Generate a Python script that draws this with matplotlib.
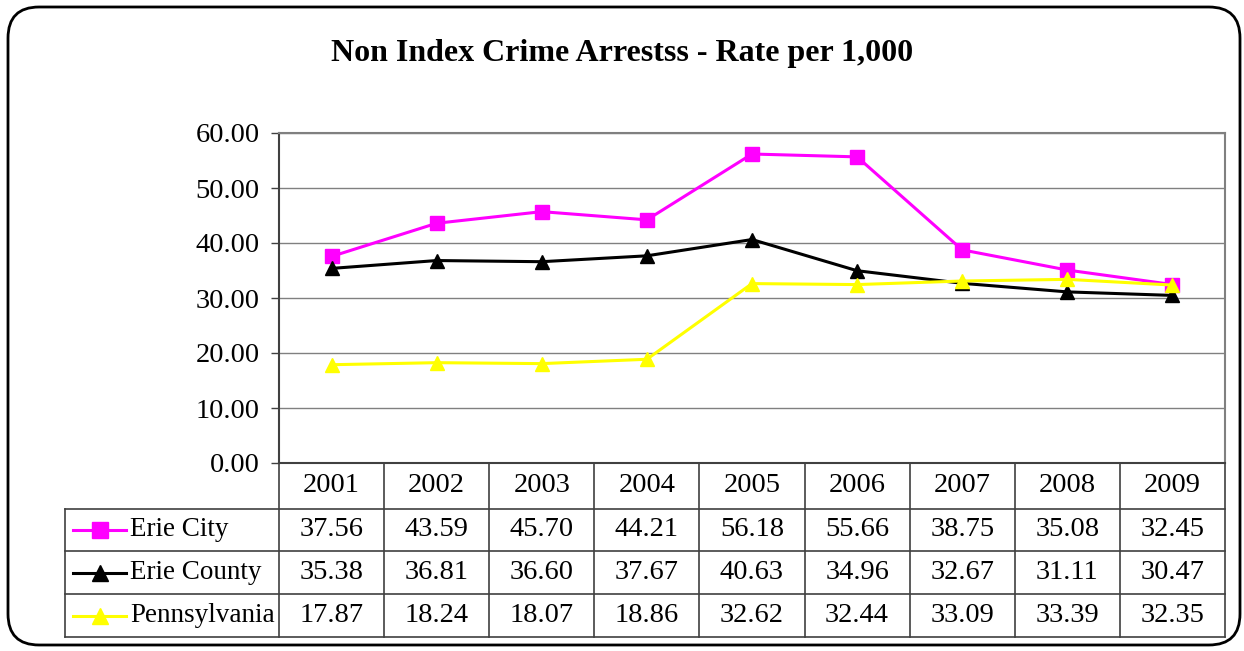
import matplotlib
matplotlib.use("Agg")
import matplotlib.pyplot as plt
from matplotlib.patches import FancyBboxPatch
from matplotlib.transforms import blended_transform_factory
from matplotlib.lines import Line2D

years = ["2001", "2002", "2003", "2004", "2005", "2006", "2007", "2008", "2009"]
erie_city = [37.56, 43.59, 45.70, 44.21, 56.18, 55.66, 38.75, 35.08, 32.45]
erie_county = [35.38, 36.81, 36.60, 37.67, 40.63, 34.96, 32.67, 31.11, 30.47]
pennsylvania = [17.87, 18.24, 18.07, 18.86, 32.62, 32.44, 33.09, 33.39, 32.35]
series_names = ["Erie City", "Erie County", "Pennsylvania"]
series_values = [erie_city, erie_county, pennsylvania]
colors = ["#FF00FF", "#000000", "#FFFF00"]
markers = ["s", "^", "^"]
title = "Non Index Crime Arrestss - Rate per 1,000"
yticks = [0, 10, 20, 30, 40, 50, 60]

plt.rcParams['font.family'] = ['Liberation Serif', 'DejaVu Serif']

FS = 20.5
W, H = 1244, 651
fig = plt.figure(figsize=(W / 100, H / 100), dpi=100)

def fy(py):
    return 1 - py / H

def fx(px):
    return px / W

# rounded border
border = FancyBboxPatch((fx(8), fy(645)), fx(1240) - fx(8), fy(7) - fy(645),
                        boxstyle="round,pad=0,rounding_size=0.025",
                        transform=fig.transFigure, fill=False, edgecolor="black",
                        linewidth=2.0, mutation_aspect=W / H)
fig.patches.append(border)

left, right, top, bottom = 279, 1225, 133, 463
ax = fig.add_axes([fx(left), fy(bottom), fx(right) - fx(left), fy(top) - fy(bottom)])

x = list(range(len(years)))
for name, vals, c, m in zip(series_names, series_values, colors, markers):
    ax.plot(x, vals, color=c, marker=m, markersize=10, linewidth=2.2, zorder=3,
            label=name)

ax.set_xlim(-0.5, len(years) - 0.5)
ax.set_ylim(0, 60)
ax.set_yticks(yticks)
ax.set_yticklabels([f"{v:.2f}" for v in yticks], fontsize=FS)
ax.set_xticks([])
ax.yaxis.grid(True, color="#808080", linewidth=1.0)
ax.set_axisbelow(True)
for side in ["top", "right"]:
    ax.spines[side].set_color("#808080")
    ax.spines[side].set_linewidth(1.5)
ax.spines["left"].set_color("#404040")
ax.spines["left"].set_linewidth(1.5)
ax.spines["bottom"].set_color("#404040")
ax.spines["bottom"].set_linewidth(1.5)
ax.tick_params(axis="y", length=6, width=1, color="#404040", pad=8)

fig.text(0.5, fy(53), title, ha="center", va="center", fontsize=23, fontweight="bold")

# data table
tr = blended_transform_factory(ax.transData, fig.transFigure)
row_edges = [463, 509, 551, 594, 637]
table_left_px = 65
lc = "#404040"
lw = 1.2
n = len(years)
for i in range(n + 1):
    xb = i - 0.5
    fig.lines.append(Line2D([xb, xb], [fy(row_edges[0]), fy(row_edges[-1])], transform=tr,
                            color=lc, linewidth=lw, clip_on=False))
for j, ry in enumerate(row_edges):
    if j == 0:
        continue
    fig.lines.append(Line2D([fx(table_left_px), fx(right)], [fy(ry), fy(ry)],
                            transform=fig.transFigure, color=lc, linewidth=lw))
fig.lines.append(Line2D([fx(table_left_px), fx(table_left_px)], [fy(row_edges[1]), fy(row_edges[-1])],
                        transform=fig.transFigure, color=lc, linewidth=lw))

hy = fy((row_edges[0] + row_edges[1]) / 2)
for i, yr in enumerate(years):
    t = plt.Text(i, hy, yr, ha="center", va="center", fontsize=FS, transform=tr)
    t.set_figure(fig)
    fig.texts.append(t)

for r, (name, vals, c, m) in enumerate(zip(series_names, series_values, colors, markers)):
    cy = fy((row_edges[r + 1] + row_edges[r + 2]) / 2)
    for i, v in enumerate(vals):
        t = plt.Text(i, cy, f"{v:.2f}", ha="center", va="center", fontsize=FS, transform=tr)
        t.set_figure(fig)
        fig.texts.append(t)
    fig.lines.append(Line2D([fx(73), fx(126)], [cy, cy], transform=fig.transFigure,
                            color=c, linewidth=2.2))
    fig.lines.append(Line2D([fx(99.5)], [cy], transform=fig.transFigure, color=c,
                            marker=m, markersize=11.5, linestyle="none"))
    fig.text(fx(130), cy, name, ha="left", va="center", fontsize=19.5)

fig.savefig("out.png", dpi=100)
